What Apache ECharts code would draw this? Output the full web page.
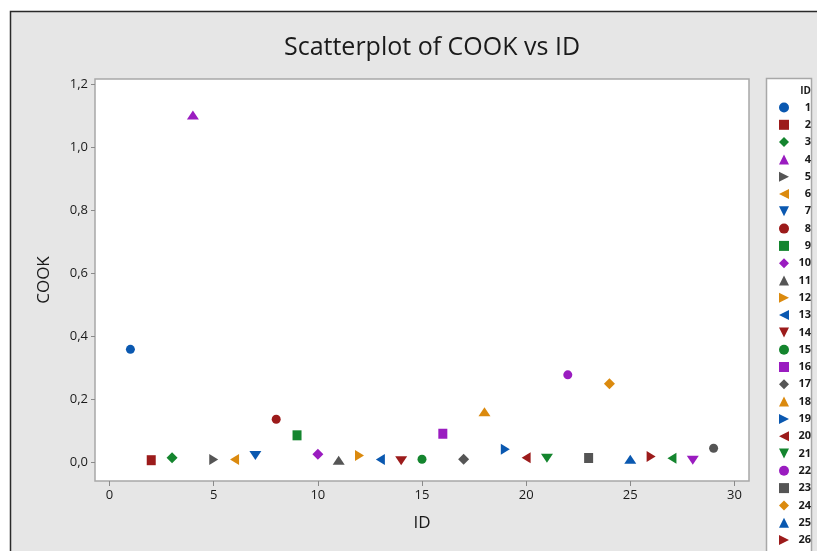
<!DOCTYPE html>
<html><head><meta charset="utf-8">
<script src="https://cdn.jsdelivr.net/npm/echarts@6/dist/echarts.min.js"></script>
<style>html,body{margin:0;padding:0;background:#fff}#c{width:817px;height:551px}</style>
</head><body><div id="c"></div>
<script>
const ids = [1,2,3,4,5,6,7,8,9,10,11,12,13,14,15,16,17,18,19,20,21,22,23,24,25,26,27,28,29];
const cook = [0.359,0.007,0.015,1.103,0.009,0.009,0.022,0.137,0.086,0.026,0.007,0.022,0.009,0.005,0.010,0.091,0.010,0.161,0.042,0.015,0.013,0.278,0.014,0.250,0.010,0.019,0.013,0.007,0.045];
const xTicks = [0,5,10,15,20,25,30];
const yTicks = [0,0.2,0.4,0.6,0.8,1.0,1.2];
const palette = ['#0a58b0','#9c1b1b','#14852e','#9a1cc0','#555555','#db8a0e'];
const shapes = ['circle','rect','diamond','triangle','path://M0,0L10,5L0,10Z','path://M10,0L0,5L10,10Z','path://M0,0L10,0L5,10Z'];
const sizes = [[9,9],[9,10],[11,11],[12,9],[9,11],[9,11],[12,9]];

const series = ids.map((id,i)=>({
  name: String(id), type:'scatter',
  symbol: shapes[i%7], symbolSize: sizes[i%7],
  itemStyle:{color: palette[i%6], opacity:1},
  data:[[id, cook[i]]], z: 5
}));

const chart = echarts.init(document.getElementById('c'), null, {renderer:'canvas'});
chart.setOption({
  backgroundColor:'#ffffff',
  animation:false,
  graphic:[
    {type:'rect', z:-10, shape:{x:10.5,y:11.5,width:820,height:560}, style:{fill:'#e6e6e6', stroke:'#2a2a2a', lineWidth:1.5}},
    {type:'rect', z:-5, shape:{x:766.5,y:78.5,width:45,height:500}, style:{fill:'#ffffff', stroke:'#a8a8a8', lineWidth:1.5}}
  ],
  title:[
    {text:'Scatterplot of COOK vs ID', left:427, top:30, textAlign:'center',
     textStyle:{fontFamily:'Open Sans', fontWeight:'normal', fontSize:25, color:'#1a1a1a'}},
    {text:'ID', left:806, top:81, textAlign:'right',
     textStyle:{fontFamily:'Open Sans', fontWeight:'bold', fontSize:10, color:'#1a1a1a'}}
  ],
  grid:{left:95, top:79, right:68, bottom:70, show:true, backgroundColor:'#ffffff', borderColor:'#a8a8a8', borderWidth:1.5},
  xAxis:{type:'value', min:-0.7, max:30.7, name:'ID', nameLocation:'middle', nameGap:34,
    nameTextStyle:{fontFamily:'Open Sans', fontSize:17, color:'#1a1a1a'},
    axisLine:{show:false, onZero:false}, splitLine:{show:false},
    axisTick:{show:true, length:5, lineStyle:{color:'#8a8a8a'}, customValues:xTicks},
    axisLabel:{customValues:xTicks, fontFamily:'Open Sans', fontSize:13, color:'#1a1a1a', margin:8}},
  yAxis:{type:'value', min:-0.059, max:1.217, name:'COOK', nameLocation:'middle', nameGap:42,
    nameTextStyle:{fontFamily:'Open Sans', fontSize:17, color:'#1a1a1a'},
    axisLine:{show:false, onZero:false}, splitLine:{show:false},
    axisTick:{show:true, length:4, lineStyle:{color:'#8a8a8a'}, customValues:yTicks},
    axisLabel:{customValues:yTicks, fontFamily:'Open Sans', fontSize:13, color:'#1a1a1a', margin:7,
      formatter:v=>v.toFixed(1).replace('.',',')}},
  legend:{orient:'vertical', left:774, top:97, height:1000, z:10,
    selectedMode:false, itemWidth:10, itemHeight:10, itemGap:6.3,
    data: series.map(s=>s.name),
    formatter: n=>'{a|'+n+'}',
    textStyle:{fontFamily:'Open Sans', fontWeight:'bold', fontSize:11, color:'#1a1a1a', lineHeight:10,
      rich:{a:{width:17, align:'right', fontFamily:'Open Sans', fontWeight:'bold', fontSize:11, color:'#1a1a1a', lineHeight:10}}}},
  series: series
});
</script></body></html>
